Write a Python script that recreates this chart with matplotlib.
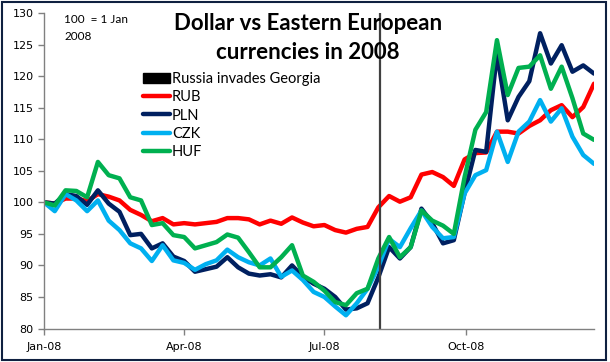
import numpy as np
import pandas as pd
import matplotlib
matplotlib.use("Agg")
import matplotlib.pyplot as plt
from matplotlib.patches import Patch, Rectangle

# weekly index values, 100 = 1 Jan 2008
dates = pd.date_range("2008-01-01", periods=52, freq="7D")

rub = [100.0, 99.8, 100.6, 100.6, 100.2, 101.3, 100.9, 100.3, 98.8, 98.0,
       97.0, 97.5, 96.5, 96.7, 96.5, 96.7, 96.9, 97.5, 97.5, 97.3,
       96.5, 97.1, 96.6, 97.6, 96.8, 96.2, 96.4, 95.6, 95.2, 95.8,
       96.1, 99.2, 101.0, 100.1, 100.8, 104.4, 104.8, 104.0, 102.6, 106.8,
       107.8, 107.9, 111.2, 111.2, 110.9, 112.1, 113.0, 114.6, 115.4, 113.5,
       115.1, 118.8]
pln = [100.0, 99.8, 101.3, 101.0, 99.6, 101.9, 99.8, 98.5, 94.8, 95.0,
       92.7, 93.5, 91.4, 90.7, 89.0, 89.4, 89.8, 91.3, 89.7, 88.7,
       88.4, 88.6, 88.1, 90.0, 88.2, 87.1, 86.3, 85.0, 83.0, 83.2,
       84.0, 88.1, 92.9, 91.1, 92.9, 99.0, 96.7, 93.5, 94.0, 101.5,
       108.3, 108.0, 123.6, 113.0, 116.7, 119.2, 126.8, 122.0, 124.9, 120.7,
       121.7, 120.4]
czk = [100.0, 98.6, 101.3, 100.3, 98.6, 100.3, 97.1, 95.6, 93.5, 92.7,
       90.7, 93.2, 90.8, 90.4, 89.3, 90.2, 90.8, 92.5, 91.3, 90.5,
       90.0, 91.1, 88.2, 89.2, 87.7, 85.8, 85.0, 83.5, 82.1, 84.0,
       86.3, 89.8, 94.2, 92.9, 95.9, 98.7, 96.1, 94.3, 94.5, 101.4,
       104.3, 105.1, 111.2, 106.4, 111.2, 112.8, 116.2, 112.8, 114.9, 110.4,
       107.5, 106.1]
huf = [100.0, 99.5, 101.9, 101.8, 100.8, 106.4, 104.3, 103.8, 100.8, 100.3,
       96.4, 96.7, 94.8, 94.5, 92.7, 93.2, 93.7, 94.9, 94.4, 92.1,
       89.7, 89.7, 91.3, 93.2, 88.4, 87.4, 86.0, 84.2, 83.7, 85.6,
       86.3, 91.1, 94.5, 91.3, 92.9, 98.7, 97.1, 96.3, 95.0, 104.0,
       111.5, 114.3, 125.7, 117.0, 121.3, 121.5, 123.3, 118.0, 121.5, 116.5,
       110.9, 109.9]

invasion = pd.Timestamp("2008-08-06")
tick_dates = pd.to_datetime(["2008-01-01", "2008-04-01", "2008-07-01", "2008-10-01"])
tick_labels = ["Jan-08", "Apr-08", "Jul-08", "Oct-08"]

fig = plt.figure(figsize=(6.1, 3.62), dpi=100)
ax = fig.add_axes([0.0721, 0.0925, 0.9017, 0.8715])

lw = 3.2
kw = dict(lw=lw, solid_joinstyle="round", solid_capstyle="round")
ax.plot(dates, rub, color="#FF0000", **kw)
ax.plot(dates, pln, color="#002060", **kw)
ax.plot(dates, czk, color="#00B0F0", **kw)
ax.plot(dates, huf, color="#00B050", **kw)
ax.axvline(invasion, color="#404040", lw=1.6)

ax.set_ylim(80, 130)
ax.set_yticks(np.arange(80, 131, 5))
ax.set_xlim(dates[0], dates[-1])
ax.set_xticks(tick_dates)
ax.set_xticklabels(tick_labels)
ax.tick_params(axis="both", labelsize=8, colors="#808080", labelcolor="black",
               length=4, width=1, direction="out")
ax.tick_params(axis="x", pad=6)
for s in ["top", "right"]:
    ax.spines[s].set_visible(False)
for s in ["left", "bottom"]:
    ax.spines[s].set_color("#808080")
    ax.spines[s].set_linewidth(1)

handles = [Patch(facecolor="black", edgecolor="black"),
           plt.Line2D([], [], color="#FF0000", **kw),
           plt.Line2D([], [], color="#002060", **kw),
           plt.Line2D([], [], color="#00B0F0", **kw),
           plt.Line2D([], [], color="#00B050", **kw)]
fig.legend(handles, ["Russia invades Georgia", "RUB", "PLN", "CZK", "HUF"],
           loc="upper left", bbox_to_anchor=(0.234, 0.80), frameon=False,
           prop={"family": "Lato", "size": 10.5}, handlelength=1.85,
           handletextpad=0.15, labelspacing=0.28, borderpad=0, borderaxespad=0)

fig.text(0.505, 0.964, "Dollar vs Eastern European\ncurrencies in 2008",
         ha="center", va="top", family="Lato", weight="bold", fontsize=16,
         linespacing=1.45)
fig.text(0.105, 0.962, "100  = 1 Jan\n2008", ha="left", va="top",
         family="Lato", fontsize=8.5, linespacing=1.65)

fig.patches.append(Rectangle((0.003, 0.005), 0.99, 0.99, transform=fig.transFigure,
                             fill=False, edgecolor="#0F2040", lw=1.5))

fig.savefig("out.png", dpi=100)
